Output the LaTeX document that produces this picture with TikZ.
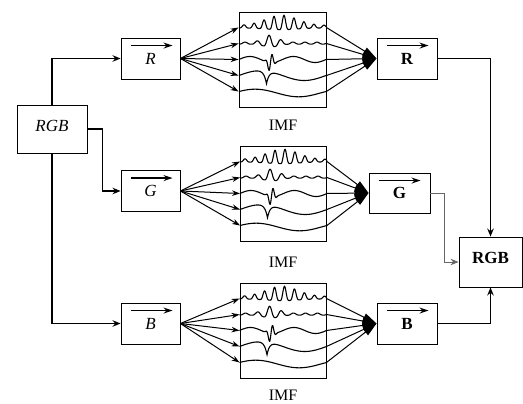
\documentclass[tikz,border=0pt]{standalone}
\usepackage{fontspec}
\setmainfont{Liberation Serif}
\usetikzlibrary{arrows.meta,calc}

\tikzset{
  blk/.style={draw, line width=0.9pt, inner sep=0pt, font=\fontsize{17}{19}\selectfont},
  conn/.style={line width=1.3pt, -{Stealth[length=8pt,width=6.5pt]}},
  vecarr/.style={line width=1.1pt, -{Stealth[length=9pt,width=6pt]}},
  fanin/.style={line width=1pt, -{Stealth[length=8pt,width=5.5pt]}},
  fanout/.style={line width=1pt, -{Triangle[length=14pt,width=8pt]}},
  wave/.style={line width=1.1pt, samples=200, domain=-43.5:43.5},
  lab/.style={font=\fontsize{16}{18}\selectfont},
}

\begin{document}
\begin{tikzpicture}[x=1pt,y=-1pt]
  \useasboundingbox (0,0) rectangle (523,404);

  % source and target
  \node[blk, minimum width=70pt, minimum height=48pt] (rgbin) at (52,129) {\raisebox{7pt}{\textit{RGB}}};
  \node[blk, minimum width=63pt, minimum height=50pt] (rgbout) at (490.5,262) {\raisebox{8pt}{\textbf{RGB}}};

  % channel boxes
  \node[blk, minimum width=59pt, minimum height=41pt] (inR) at (150.5,58.5) {\raisebox{-5pt}{\textit{R}}};
  \node[blk, minimum width=59pt, minimum height=41pt] (inG) at (150.5,191) {\raisebox{-5pt}{\textit{G}}};
  \node[blk, minimum width=59pt, minimum height=41pt] (inB) at (150.5,323.5) {\raisebox{-5pt}{\textit{B}}};

  \node[blk, minimum width=87pt, minimum height=95pt] (imfR) at (282.5,59.5) {};
  \node[blk, minimum width=86pt, minimum height=95pt] (imfG) at (283.5,193.5) {};
  \node[blk, minimum width=86pt, minimum height=95pt] (imfB) at (283,330.5) {};
  \node[lab] (labR) at (283,125) {IMF};
  \node[lab] (labG) at (283,262) {IMF};
  \node[lab] (labB) at (283,395) {IMF};

  \node[blk, minimum width=60pt, minimum height=41pt] (outR) at (407,58.5) {\raisebox{-5pt}{\textbf{R}}};
  \node[blk, minimum width=61pt, minimum height=40pt] (outG) at (399.5,193) {\raisebox{-5pt}{\textbf{G}}};
  \node[blk, minimum width=60pt, minimum height=41pt] (outB) at (407,323.5) {\raisebox{-5pt}{\textbf{B}}};

  % arrows over the letters
  \foreach \n in {inR,inG,inB,outR,outG,outB}
    \draw[vecarr] ($(\n.north west)+(10,8)$) -- ++(42,0);

  % splitting
  \draw[conn] (rgbin.north) |- (inR.west);
  \draw[conn] (rgbin.east) -- ++(15,0) |- (inG.west);
  \draw[conn] (rgbin.south) |- (inB.west);

  % fans and modes
  \foreach \c in {R,G,B} {
    \foreach \d in {-32,-16,0,16,32} {
      \draw[fanin] (in\c.east) -- ($(imf\c.west)+(0,\d)$);
      \draw[fanout] ($(imf\c.east)+(0,\d)$) -- (out\c.west);
    }
    \begin{scope}[shift={(imf\c.center)}]
      \draw[wave] plot (\x,{-32-(2.5+12*exp(-pow((\x+1)/22,2)))*(pow(abs(sin(18*(\x+43.5))),4)-0.15)});
      \draw[wave] plot (\x,{-16-(2+10*exp(-pow((\x+12)/10,2)))*(pow(abs(sin(15*(\x+43.5))),3)-0.3)});
      \draw[wave] plot (\x,{0-10*exp(-pow((\x+12)/3.5,2))*sin(50*(\x+12))-3*sin(8.276*(\x+43.5))});
      \draw[wave] plot (\x,{16+13*exp(-abs(\x+16)/2.5)-5*sin(4.138*(\x+43.5))});
      \draw[wave] plot (\x,{32-3.5*sin(4.138*(\x+43.5))+3*pow(sin(2.069*(\x+43.5)),2)});
    \end{scope}
  }

  % merging
  \draw[conn, line width=1.6pt] (outR.east) -| (rgbout.north);
  \draw[conn, black!60, line width=0.9pt] (outG.east) -- ++(14,0) |- (rgbout.west);
  \draw[conn] (outB.east) -| (rgbout.south);
\end{tikzpicture}
\end{document}
